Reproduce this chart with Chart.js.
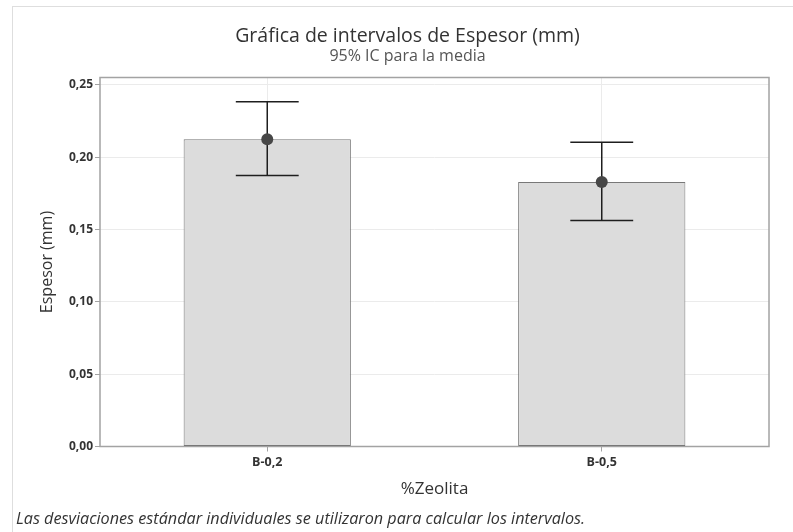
<!DOCTYPE html>
<html>
<head>
<meta charset="utf-8">
<script src="https://cdn.jsdelivr.net/npm/chart.js@4"></script>
<style>
  html, body { margin: 0; padding: 0; background: #fff; }
  #wrap { position: relative; width: 793px; height: 532px; overflow: hidden; font-family: "Open Sans", sans-serif; }
  #card { position: absolute; left: 12px; top: 6px; width: 800px; height: 540px;
          border-top: 1px solid #dedede; border-left: 1px solid #dedede; }
  #chart { position: absolute; left: 0; top: 0; }
  .t { position: absolute; left: 0; width: 815px; text-align: center; white-space: nowrap; }
  #title { top: 23px; font-size: 19.5px; line-height: 23px; color: #333; }
  #subtitle { top: 45px; font-size: 16px; line-height: 20px; color: #555; }
  #note { position: absolute; left: 16px; top: 508px; font-style: italic; font-size: 16.2px;
          line-height: 20px; color: #333; white-space: nowrap; }
</style>
</head>
<body>
<div id="wrap">
  <div id="card"></div>
  <canvas id="chart" width="793" height="532"></canvas>
  <div id="title" class="t">Gráfica de intervalos de Espesor (mm)</div>
  <div id="subtitle" class="t">95% IC para la media</div>
  <div id="note">Las desviaciones estándar individuales se utilizaron para calcular los intervalos.</div>
</div>
<script>
const categories = ["B-0,2", "B-0,5"];
const means = [0.2124, 0.1829];
const ciLower = [0.1873, 0.1562];
const ciUpper = [0.2384, 0.2103];
const yTicks = [0, 0.05, 0.10, 0.15, 0.20, 0.25];

const FONT = '"Open Sans", "Noto Sans", sans-serif';

const framePlugin = {
  id: 'frame',
  beforeDatasetsDraw(chart) {
    const {ctx, chartArea: a} = chart;
    ctx.save();
    ctx.strokeStyle = '#a3a3a3';
    ctx.lineWidth = 1.5;
    ctx.strokeRect(a.left, a.top, a.right - a.left, a.bottom - a.top);
    ctx.restore();
  }
};

const errorBarPlugin = {
  id: 'errorBars',
  afterDatasetDraw(chart, args) {
    if (args.index !== 0) return;
    const {ctx} = chart;
    const y = chart.scales.y;
    const meta = chart.getDatasetMeta(0);
    ctx.save();
    ctx.strokeStyle = '#1e1e1e';
    ctx.lineWidth = 1.5;
    meta.data.forEach((bar, i) => {
      const x = bar.x;
      const half = bar.width * 0.188;
      const yl = y.getPixelForValue(ciLower[i]);
      const yu = y.getPixelForValue(ciUpper[i]);
      ctx.beginPath();
      ctx.moveTo(x, yu); ctx.lineTo(x, yl);
      ctx.moveTo(x - half, yu); ctx.lineTo(x + half, yu);
      ctx.moveTo(x - half, yl); ctx.lineTo(x + half, yl);
      ctx.stroke();
    });
    ctx.restore();
  }
};

new Chart(document.getElementById('chart'), {
  data: {
    labels: categories,
    datasets: [
      {
        type: 'bar',
        data: means,
        order: 1,
        backgroundColor: '#dcdcdc',
        borderColor: '#787878',
        borderWidth: 1,
        borderSkipped: false,
        barPercentage: 1.0,
        categoryPercentage: 0.5
      },
      {
        type: 'line',
        data: means,
        order: 0,
        showLine: false,
        pointRadius: 6,
        pointBackgroundColor: '#474747',
        pointBorderColor: '#474747',
        pointBorderWidth: 0
      }
    ]
  },
  options: {
    responsive: false,
    animation: false,
    events: [],
    layout: { padding: { left: 12, right: 24, top: 77.5, bottom: 30 } },
    plugins: {
      legend: { display: false },
      tooltip: { enabled: false },
      title: { display: false },
      subtitle: { display: false }
    },
    scales: {
      x: {
        type: 'category',
        offset: true,
        afterFit(s) { s.height = 55.5; },
        grid: { offset: false, color: '#ebebeb', tickColor: '#a3a3a3', tickLength: 5, drawTicks: true },
        border: { display: false },
        ticks: { color: '#333', padding: 3, font: { family: FONT, size: 12.5, weight: 'bold' } },
        title: {
          display: true, text: '%Zeolita', color: '#333',
          font: { family: FONT, size: 17, weight: 'normal' },
          padding: { top: 0, bottom: 3 }
        }
      },
      y: {
        type: 'linear',
        min: 0,
        max: 0.2551,
        afterFit(s) { s.width = 88; },
        afterBuildTicks(s) { s.ticks = yTicks.map(v => ({ value: v })); },
        grid: { color: '#ebebeb', tickColor: '#a3a3a3', tickLength: 5 },
        border: { display: false },
        ticks: {
          color: '#333', padding: 2,
          font: { family: FONT, size: 12, weight: 'bold' },
          callback: v => Number(v).toFixed(2).replace('.', ',')
        },
        title: {
          display: true, text: 'Espesor (mm)', color: '#333',
          font: { family: FONT, size: 16, weight: 'normal' },
          padding: { top: 26, bottom: 0 }
        }
      }
    }
  },
  plugins: [framePlugin, errorBarPlugin]
});
</script>
</body>
</html>
